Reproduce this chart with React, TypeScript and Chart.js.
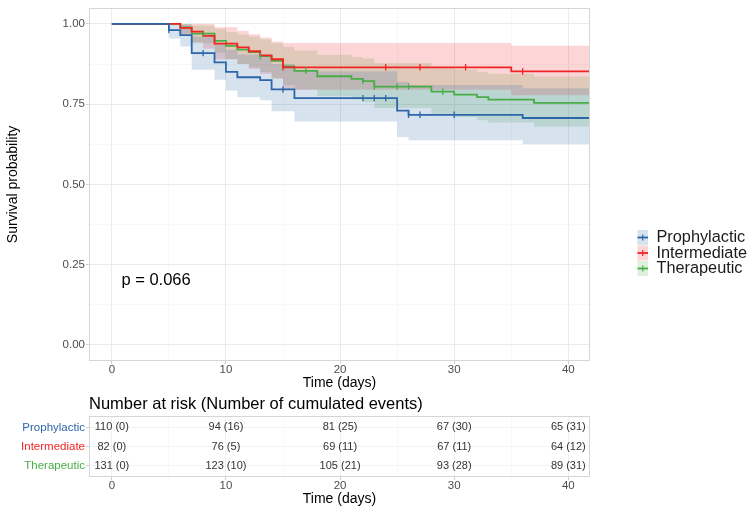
import React, { useEffect, useRef } from "react";
import { Chart, registerables } from "chart.js";

Chart.register(...registerables);

// ---------- data ----------
const groupNames = ["Prophylactic", "Intermediate", "Therapeutic"];
const lineColors = ["#2C66A8", "#F02424", "#48AD46"];
const bandColors = ["rgba(44,102,168,0.19)", "rgba(240,36,36,0.19)", "rgba(72,173,70,0.19)"];

const prophTimes = [0, 5, 6, 7, 9, 10, 11, 13, 14, 16, 25, 26, 36, 42];
const prophSurv = [1, 0.981, 0.965, 0.909, 0.88, 0.851, 0.834, 0.825, 0.796, 0.769, 0.73, 0.717, 0.707, 0.707];
const prophLower = [1, 0.955, 0.93, 0.857, 0.826, 0.793, 0.772, 0.762, 0.728, 0.696, 0.648, 0.638, 0.625, 0.625];
const prophUpper = [1, 1, 0.998, 0.96, 0.94, 0.92, 0.905, 0.898, 0.875, 0.853, 0.82, 0.81, 0.8, 0.8];
const prophCensor = [5, 8, 15, 22, 23, 24, 26, 27, 30];

const interTimes = [0, 6, 7, 8, 9, 11, 12, 13, 14, 15, 35, 42];
const interSurv = [1, 0.988, 0.976, 0.963, 0.939, 0.927, 0.915, 0.902, 0.89, 0.865, 0.852, 0.852];
const interLower = [1, 0.965, 0.943, 0.923, 0.89, 0.875, 0.86, 0.845, 0.83, 0.795, 0.778, 0.778];
const interUpper = [1, 1, 1, 1, 0.99, 0.978, 0.968, 0.958, 0.945, 0.941, 0.932, 0.932];
const interCensor = [15, 24, 27, 31, 36];

const theraTimes = [0, 6, 7, 9, 10, 11, 12, 13, 14, 15, 16, 18, 21, 22, 23, 28, 30, 32, 33, 37, 42];
const theraSurv = [1, 0.989, 0.97, 0.947, 0.932, 0.92, 0.912, 0.9, 0.885, 0.868, 0.854, 0.837, 0.829, 0.822, 0.805, 0.789, 0.78, 0.772, 0.764, 0.754, 0.754];
const theraLower = [1, 0.97, 0.94, 0.91, 0.89, 0.875, 0.865, 0.85, 0.83, 0.81, 0.795, 0.775, 0.765, 0.757, 0.738, 0.72, 0.71, 0.7, 0.693, 0.68, 0.68];
const theraUpper = [1, 1, 0.995, 0.985, 0.975, 0.967, 0.961, 0.952, 0.94, 0.928, 0.917, 0.904, 0.897, 0.892, 0.878, 0.865, 0.858, 0.851, 0.845, 0.836, 0.836];
const theraCensor = [8, 13, 17, 22, 23, 25, 26, 29];

const xTicks = [0, 5, 10, 15, 20, 25, 30, 35, 40];
const yTicks = [0, 0.125, 0.25, 0.375, 0.5, 0.625, 0.75, 0.875, 1];
const pValueText = "p = 0.066";
const pValueX = 0.84;
const pValueY = 0.2;

const riskTimes = [0, 10, 20, 30, 40];
const prophRisk = [110, 94, 81, 67, 65];
const prophEvents = [0, 16, 25, 30, 31];
const interRisk = [82, 76, 69, 67, 64];
const interEvents = [0, 5, 11, 11, 12];
const theraRisk = [131, 123, 105, 93, 89];
const theraEvents = [0, 10, 21, 28, 31];

// ---------- helpers ----------
const FONT = "'Liberation Sans', Arial, sans-serif";
const X_MIN = -2;
const X_MAX = 41.9;

const groups = [
  { times: prophTimes, surv: prophSurv, lower: prophLower, upper: prophUpper, censor: prophCensor },
  { times: interTimes, surv: interSurv, lower: interLower, upper: interUpper, censor: interCensor },
  { times: theraTimes, surv: theraSurv, lower: theraLower, upper: theraUpper, censor: theraCensor },
];
const riskRows = [
  { risk: prophRisk, events: prophEvents },
  { risk: interRisk, events: interEvents },
  { risk: theraRisk, events: theraEvents },
];

const toPts = (xs: number[], ys: number[]) => xs.map((x, i) => ({ x, y: ys[i] }));
const survAt = (times: number[], surv: number[], t: number) => {
  let v = surv[0];
  for (let i = 0; i < times.length; i++) if (times[i] <= t) v = surv[i];
  return v;
};
const isMajorX = (v: number) => Math.abs(v % 10) < 1e-9;
const isMajorY = (v: number) => Math.abs((v * 4) % 1) < 1e-9;

const panelBorder = {
  id: "panelBorder",
  afterDraw(chart: any) {
    const { ctx, chartArea: a } = chart;
    ctx.save();
    ctx.strokeStyle = "#d6d6d6";
    ctx.lineWidth = 1;
    ctx.strokeRect(Math.round(a.left) + 0.5, Math.round(a.top) + 0.5, Math.round(a.right - a.left) - 1, Math.round(a.bottom - a.top) - 1);
    ctx.restore();
  },
};

const mainExtras = {
  id: "mainExtras",
  afterDraw(chart: any) {
    const { ctx } = chart;
    const xs = chart.scales.x;
    const ys = chart.scales.y;
    ctx.save();
    // p-value
    ctx.fillStyle = "#000";
    ctx.font = `16.5px ${FONT}`;
    ctx.textAlign = "left";
    ctx.textBaseline = "middle";
    ctx.fillText(pValueText, xs.getPixelForValue(pValueX), ys.getPixelForValue(pValueY));
    // legend
    const keyX = 637.5;
    const top = 237.5;
    const step = 15.5;
    groupNames.forEach((name, i) => {
      const cy = top + i * step;
      ctx.fillStyle = bandColors[i];
      ctx.fillRect(keyX, cy - 7.5, 10.5, 15);
      ctx.strokeStyle = lineColors[i];
      ctx.lineWidth = 1.8;
      ctx.beginPath();
      ctx.moveTo(keyX, cy);
      ctx.lineTo(keyX + 10.5, cy);
      ctx.stroke();
      ctx.lineWidth = 1.2;
      ctx.beginPath();
      ctx.moveTo(keyX + 5.25, cy - 3);
      ctx.lineTo(keyX + 5.25, cy + 3);
      ctx.stroke();
      ctx.fillStyle = "#1a1a1a";
      ctx.font = `16.3px ${FONT}`;
      ctx.textAlign = "left";
      ctx.textBaseline = "middle";
      ctx.fillText(name, 656.5, cy + 0.5);
    });
    ctx.restore();
  },
};

const tableExtras = {
  id: "tableExtras",
  afterDatasetsDraw(chart: any) {
    const { ctx } = chart;
    const xs = chart.scales.x;
    const ys = chart.scales.y;
    ctx.save();
    ctx.fillStyle = "#333333";
    ctx.font = `11px ${FONT}`;
    ctx.textAlign = "center";
    ctx.textBaseline = "middle";
    riskRows.forEach((row, r) => {
      riskTimes.forEach((t, j) => {
        ctx.fillText(`${row.risk[j]} (${row.events[j]})`, xs.getPixelForValue(t), ys.getPixelForValue(r + 1));
      });
    });
    ctx.fillStyle = "#000";
    ctx.font = `16.5px ${FONT}`;
    ctx.textAlign = "left";
    ctx.fillText("Number at risk (Number of cumulated events)", chart.chartArea.left, 9.5);
    ctx.restore();
  },
};

const xGrid = (major: string, minor: string) => ({
  color: (c: any) => (c.tick && isMajorX(c.tick.value) ? major : minor),
  lineWidth: (c: any) => (c.tick && isMajorX(c.tick.value) ? 1 : 0.7),
  tickColor: (c: any) => (c.tick && isMajorX(c.tick.value) ? "#cfcfcf" : "rgba(0,0,0,0)"),
  tickLength: 3,
  drawTicks: true,
});

export default function App() {
  const mainRef = useRef<HTMLCanvasElement>(null);
  const tableRef = useRef<HTMLCanvasElement>(null);

  useEffect(() => {
    document.body.style.margin = "0";
    const datasets: any[] = [];
    groups.forEach((g, i) => {
      datasets.push({
        data: toPts(g.times, g.upper),
        stepped: "before",
        borderWidth: 0,
        pointRadius: 0,
        backgroundColor: bandColors[i],
        fill: "+1",
        order: 10,
      });
      datasets.push({
        data: toPts(g.times, g.lower),
        stepped: "before",
        borderWidth: 0,
        pointRadius: 0,
        fill: false,
        order: 10,
      });
    });
    groups.forEach((g, i) => {
      datasets.push({
        data: toPts(g.times, g.surv),
        stepped: "before",
        borderColor: lineColors[i],
        borderWidth: 1.8,
        pointRadius: 0,
        fill: false,
        order: 5,
      });
    });
    groups.forEach((g, i) => {
      datasets.push({
        data: g.censor.map((t) => ({ x: t, y: survAt(g.times, g.surv, t) })),
        showLine: false,
        pointStyle: "line",
        rotation: 90,
        pointRadius: 3.2,
        borderColor: lineColors[i],
        pointBorderWidth: 1.3,
        borderWidth: 1.3,
        order: 1,
      });
    });

    const main = new Chart(mainRef.current!, {
      type: "line",
      data: { datasets },
      options: {
        animation: false,
        responsive: false,
        events: [],
        layout: { padding: { top: 7, right: 165, left: 0, bottom: 0 } },
        plugins: {
          legend: { display: false },
          tooltip: { enabled: false },
          filler: { drawTime: "beforeDatasetsDraw" },
        },
        scales: {
          x: {
            type: "linear",
            min: X_MIN,
            max: X_MAX,
            afterBuildTicks: (s: any) => {
              s.ticks = xTicks.map((v) => ({ value: v }));
            },
            afterFit: (s: any) => {
              s.height = 34;
            },
            grid: xGrid("#ebebeb", "#f5f5f5"),
            border: { display: false },
            ticks: {
              callback: (v: any) => (isMajorX(Number(v)) ? String(v) : ""),
              color: "#4d4d4d",
              font: { family: FONT, size: 11.5 },
              padding: -1,
              maxRotation: 0,
              autoSkip: false,
            },
            title: {
              display: true,
              text: "Time (days)",
              color: "#000",
              font: { family: FONT, size: 14 },
              padding: { top: 0, bottom: 3 },
            },
          },
          y: {
            type: "linear",
            min: -0.05,
            max: 1.05,
            afterBuildTicks: (s: any) => {
              s.ticks = yTicks.map((v) => ({ value: v }));
            },
            afterFit: (s: any) => {
              s.width = 89;
            },
            grid: {
              color: (c: any) => (c.tick && isMajorY(c.tick.value) ? "#ebebeb" : "#f5f5f5"),
              lineWidth: (c: any) => (c.tick && isMajorY(c.tick.value) ? 1 : 0.7),
              tickColor: (c: any) => (c.tick && isMajorY(c.tick.value) ? "#cfcfcf" : "rgba(0,0,0,0)"),
              tickLength: 3,
            },
            border: { display: false },
            ticks: {
              callback: (v: any) => (isMajorY(Number(v)) ? Number(v).toFixed(2) : ""),
              color: "#4d4d4d",
              font: { family: FONT, size: 11.5 },
              padding: 1,
              autoSkip: false,
            },
            title: {
              display: true,
              text: "Survival probability",
              color: "#000",
              font: { family: FONT, size: 14 },
              padding: { top: 5, bottom: 0 },
            },
          },
        },
      } as any,
      plugins: [panelBorder, mainExtras],
    });

    const table = new Chart(tableRef.current!, {
      type: "line",
      data: { datasets: [{ data: [], pointRadius: 0 }] },
      options: {
        animation: false,
        responsive: false,
        events: [],
        layout: { padding: { top: 21, right: 165, left: 0, bottom: 0 } },
        plugins: { legend: { display: false }, tooltip: { enabled: false } },
        scales: {
          x: {
            type: "linear",
            min: X_MIN,
            max: X_MAX,
            afterBuildTicks: (s: any) => {
              s.ticks = xTicks.map((v) => ({ value: v }));
            },
            afterFit: (s: any) => {
              s.height = 36;
            },
            grid: xGrid("#f0f0f0", "#f7f7f7"),
            border: { display: false },
            ticks: {
              callback: (v: any) => (isMajorX(Number(v)) ? String(v) : ""),
              color: "#4d4d4d",
              font: { family: FONT, size: 11.5 },
              padding: -1,
              maxRotation: 0,
              autoSkip: false,
            },
            title: {
              display: true,
              text: "Time (days)",
              color: "#000",
              font: { family: FONT, size: 14 },
              padding: { top: 0, bottom: 5.5 },
            },
          },
          y: {
            type: "linear",
            min: 0.4,
            max: 3.6,
            reverse: true,
            afterBuildTicks: (s: any) => {
              s.ticks = [1, 2, 3].map((v) => ({ value: v }));
            },
            afterFit: (s: any) => {
              s.width = 89;
            },
            grid: {
              color: "#f3f3f3",
              lineWidth: 1,
              tickColor: "#cfcfcf",
              tickLength: 3,
            },
            border: { display: false },
            ticks: {
              callback: (v: any) => groupNames[Number(v) - 1] || "",
              color: (c: any) => lineColors[(c.tick ? c.tick.value : 1) - 1] || "#000",
              font: { family: FONT, size: 11.5 },
              padding: 1,
              autoSkip: false,
            },
          },
        },
      } as any,
      plugins: [panelBorder, tableExtras],
    });

    return () => {
      main.destroy();
      table.destroy();
    };
  }, []);

  return (
    <div style={{ position: "fixed", left: 0, top: 0, width: 755, height: 513, background: "#fff" }}>
      <canvas ref={mainRef} width={755} height={395} style={{ position: "absolute", left: 0, top: 0, width: 755, height: 395 }} />
      <canvas ref={tableRef} width={755} height={118} style={{ position: "absolute", left: 0, top: 395, width: 755, height: 118 }} />
    </div>
  );
}
